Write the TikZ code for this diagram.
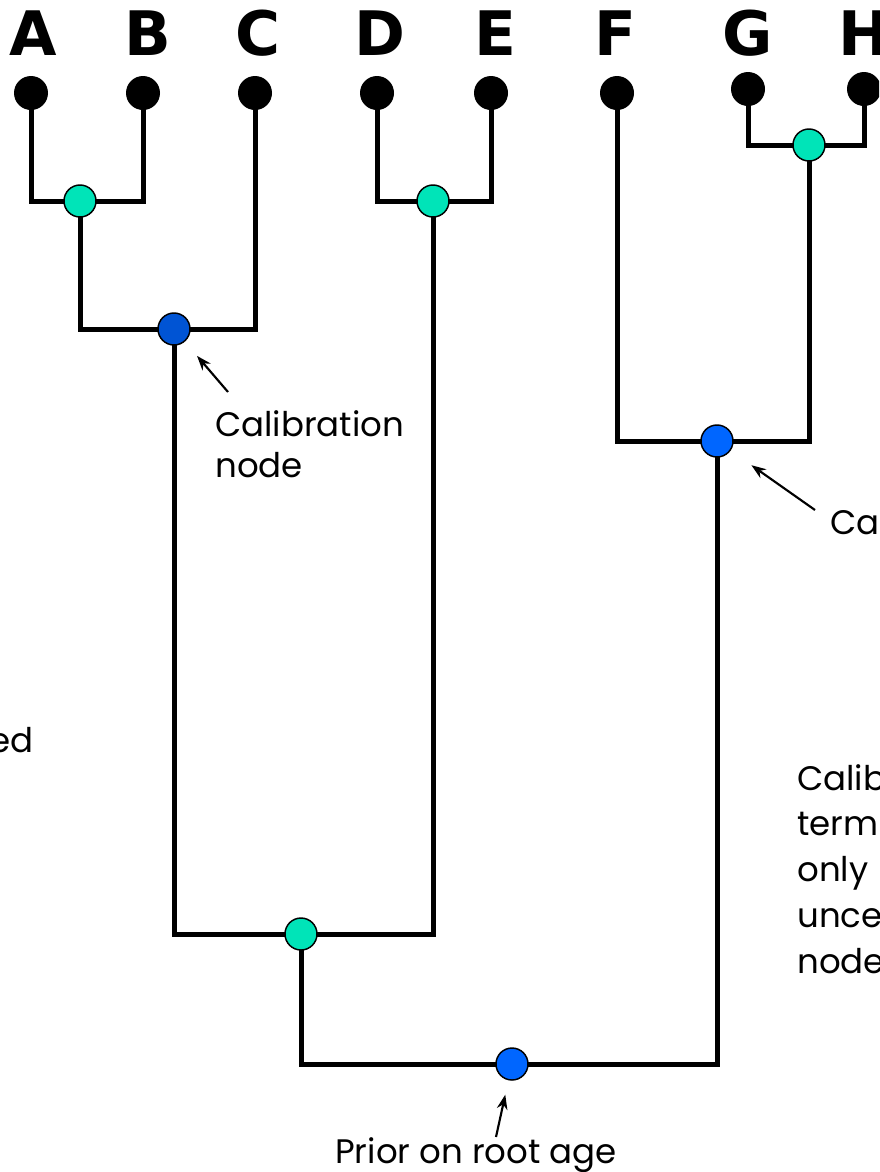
\documentclass[tikz,border=0pt]{standalone}
\usepackage{fontspec}
\setmainfont{Poppins}
\newfontfamily\taxonfont{DejaVu Sans}
\usetikzlibrary{arrows.meta}

\definecolor{splitcyan}{RGB}{0,228,184}
\definecolor{calibdark}{RGB}{0,84,212}
\definecolor{calibblue}{RGB}{0,102,255}

\pgfdeclarelayer{branches}
\pgfsetlayers{branches,main}

\tikzset{
    tip/.style={circle, fill=black, minimum size=25.5pt, inner sep=0pt},
    split/.style={circle, draw=black, line width=1.1pt, fill=splitcyan, minimum size=24pt, inner sep=0pt},
    calib/.style={split, fill=calibblue},
    branch/.style={line width=3.75pt},
    pointer/.style={-{Stealth[length=11pt,width=8pt]}, line width=1.6pt},
    taxon/.style={font=\taxonfont\bfseries\fontsize{46}{46}\selectfont, anchor=base, inner sep=0pt},
    note/.style={font=\fontsize{25.5}{30.75}\selectfont, align=left, inner sep=0pt, anchor=base west},
}

\begin{document}
\begin{tikzpicture}[x=0.75pt,y=0.75pt,yscale=-1,xscale=1]
        \useasboundingbox (0,0) rectangle (879,1172);
        \clip (0,0) rectangle (879,1172);

        % Taxon labels
        \node[taxon] (lA) at (33,55) {A};
        \node[taxon] (lB) at (148,55) {B};
        \node[taxon] (lC) at (258,55) {C};
        \node[taxon] (lD) at (380,55) {D};
        \node[taxon] (lE) at (495,55) {E};
        \node[taxon] (lF) at (615,55) {F};
        \node[taxon] (lG) at (748,55) {G};
        \node[taxon] (lH) at (864,55) {H};

        % Tips
        \node[tip] (tA) at (31,93) {};
        \node[tip] (tB) at (143,93) {};
        \node[tip] (tC) at (255,93) {};
        \node[tip] (tD) at (377,93) {};
        \node[tip] (tE) at (491,93) {};
        \node[tip] (tF) at (617,93) {};
        \node[tip] (tG) at (748,89) {};
        \node[tip] (tH) at (864,89) {};

        % Internal nodes
        \node[split] (nAB) at (80,201) {};
        \node[calib, fill=calibdark] (nABC) at (174,329) {};
        \node[split] (nDE) at (433,201) {};
        \node[split] (nABCDE) at (301,934) {};
        \node[split] (nGH) at (809,145) {};
        \node[calib] (nFGH) at (717,441) {};
        \node[calib] (root) at (512,1064) {};

        % Branches
        \begin{pgfonlayer}{branches}
        \draw[branch] (tA.center) |- (nAB.center) -| (tB.center);
        \draw[branch] (nAB.center) |- (nABC.center) -| (tC.center);
        \draw[branch] (tD.center) |- (nDE.center) -| (tE.center);
        \draw[branch] (nABC.center) |- (nABCDE.center) -| (nDE.center);
        \draw[branch] (tG.center) |- (nGH.center) -| (tH.center);
        \draw[branch] (tF.center) |- (nFGH.center) -| (nGH.center);
        \draw[branch] (nABCDE.center) |- (root.center) -| (nFGH.center);
        \end{pgfonlayer}

        % Notes (anchored at the baseline of their last line)
        \node[note] (calNote) at (215,477) {Calibration\\node};
        \node[note] (calNoteR) at (830,534) {Calibration node};
        \node[note, anchor=base east] (fixedNote) at (34,752) {fixed};
        \node[note, font=\fontsize{25.5}{34.3}\selectfont] (sideNote) at (797,973) {Calibration\\terminal\\only\\uncertain\\nodes};
        \node[note] (rootNote) at (335,1163) {Prior on root age};

        % Pointers
        \coordinate (pABC) at (228,392);
        \coordinate (pFGH) at (815,510);
        \coordinate (pRoot) at (496,1137);
        \draw[pointer, shorten >=14pt] (pABC) -- (nABC);
        \draw[pointer, shorten >=19pt] (pFGH) -- (nFGH);
        \draw[pointer, shorten >=11pt] (pRoot) -- (root);
\end{tikzpicture}
\end{document}
